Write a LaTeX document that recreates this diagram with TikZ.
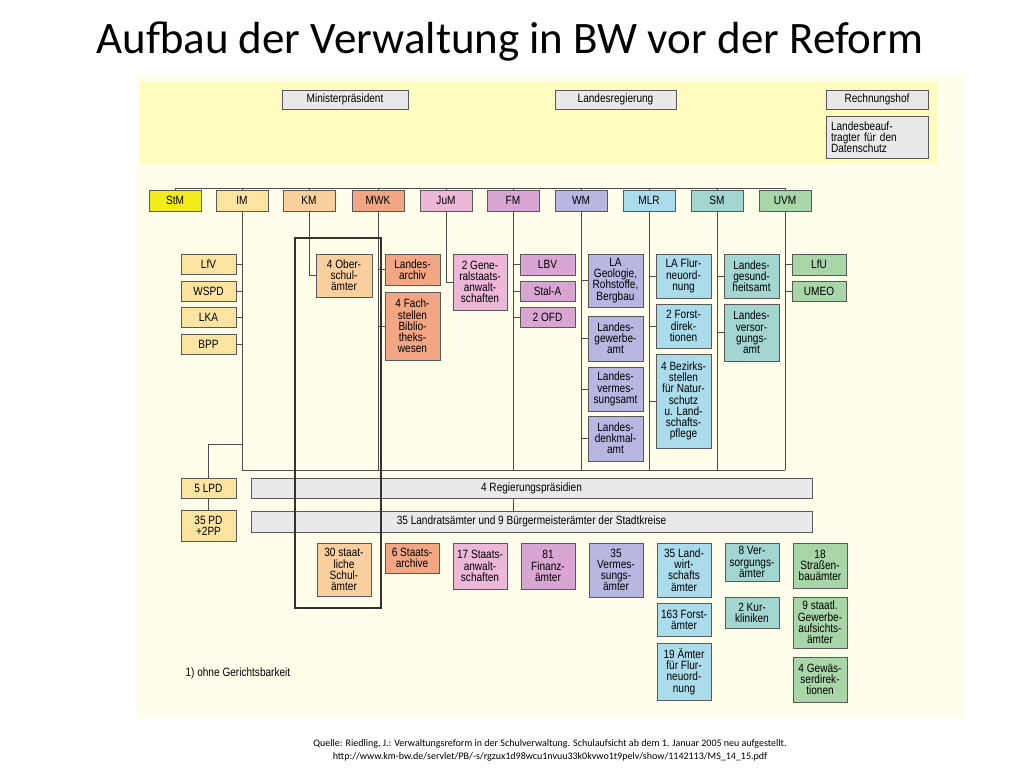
\documentclass[tikz,border=0pt]{standalone}
\usepackage{fontspec}
\setmainfont{Carlito}
\newfontfamily\bx[FakeStretch=0.84]{Liberation Sans}
\begin{document}
\begin{tikzpicture}[x=1pt,y=-1pt,
 bx/.style={draw=black!65,line width=0.8pt,inner sep=0pt,align=center,font=\bx\fontsize{12}{11.2}\selectfont},
 mi/.style={bx,minimum width=52pt,minimum height=21pt},
 ch/.style={bx,minimum width=55pt},
 gr/.style={bx,fill=grey1},
 ln/.style={draw=black!70,line width=0.8pt}]
\definecolor{grey1}{HTML}{E9E9EC}
\definecolor{cstm}{HTML}{F2EA1C}\definecolor{cim}{HTML}{FBE3A0}\definecolor{ckm}{HTML}{F9CF9E}
\definecolor{cmwk}{HTML}{F3A683}\definecolor{cjum}{HTML}{EDB8D8}\definecolor{cfm}{HTML}{D9A6D3}
\definecolor{cwm}{HTML}{B7B7E2}\definecolor{cmlr}{HTML}{ABDCEB}\definecolor{csm}{HTML}{A3D6D0}
\definecolor{cuvm}{HTML}{A8D6A8}
\useasboundingbox (0,0) rectangle (1024,768);
\fill[white] (0,0) rectangle (1024,768);
\fill[yellow!8] (137,75) rectangle (963,718);
\fill[yellow!25] (140,82) rectangle (938,164);
\node[font=\fontsize{45}{48}\selectfont] (title) at (510,42) {Aufbau der Verwaltung in BW vor der Reform};
% top
\node[gr,minimum width=126pt,minimum height=19pt] (mp) at (345,99.5) {Ministerpräsident};
\node[gr,minimum width=121pt,minimum height=19pt] (lr) at (615.5,99.5) {Landesregierung};
\node[gr,minimum width=102pt,minimum height=19pt] (rh) at (877,99.5) {Rechnungshof};
\node[gr,minimum width=102pt,minimum height=42pt,align=left,text width=92pt] (ld) at (877,137) {Landesbeauf-\\tragter für den\\Datenschutz};
% ministries
\node[mi,fill=cstm] (stm) at (175,200.5) {StM};
\node[mi,fill=cim] (im) at (242,200.5) {IM};
\node[mi,fill=ckm] (km) at (309,200.5) {KM};
\node[mi,fill=cmwk] (mwk) at (378,200.5) {MWK};
\node[mi,fill=cjum] (jum) at (446,200.5) {JuM};
\node[mi,fill=cfm] (fm) at (513,200.5) {FM};
\node[mi,fill=cwm] (wm) at (581,200.5) {WM};
\node[mi,fill=cmlr] (mlr) at (649,200.5) {MLR};
\node[mi,fill=csm] (sm) at (717,200.5) {SM};
\node[mi,fill=cuvm] (uvm) at (785,200.5) {UVM};
\coordinate (t0) at (175,188); \coordinate (t1) at (785,188);
\draw[ln] (t0) -- (t1);
\foreach \m in {stm,im,km,mwk,jum,fm,wm,mlr,sm,uvm} \draw[ln] (\m.north) -- (\m.north |- t0);
% bus
\coordinate (b0) at (242,470); \coordinate (b1) at (785,470);
\draw[ln] (b0) -- (b1);
\foreach \m in {im,mwk,fm,wm,mlr,sm,uvm} \draw[ln] (\m.south) -- (\m.south |- b0);
% IM children
\node[ch,fill=cim,minimum height=20pt] (lfv) at (208.5,264) {LfV};
\node[ch,fill=cim,minimum height=20pt] (wspd) at (208.5,291) {WSPD};
\node[ch,fill=cim,minimum height=20pt] (lka) at (208.5,317) {LKA};
\node[ch,fill=cim,minimum height=20pt] (bpp) at (208.5,344) {BPP};
\foreach \c in {lfv,wspd,lka,bpp} \draw[ln] (\c.east) -- (\c.east -| im.south);
% KM
\node[bx,fill=ckm,minimum width=56pt,minimum height=43pt] (ober) at (344,275.5) {4 Ober-\\schul-\\ämter};
\draw[ln] (km.south) |- (ober.west);
% MWK
\node[ch,fill=cmwk,minimum height=31pt] (larch) at (412.5,269.5) {Landes-\\archiv};
\node[ch,fill=cmwk,minimum height=68pt] (fach) at (412.5,326) {4 Fach-\\stellen\\Biblio-\\theks-\\wesen};
\foreach \c in {larch,fach} \draw[ln] (\c.west) -- (\c.west -| mwk.south);
% JuM
\node[bx,fill=cjum,minimum width=54pt,minimum height=56pt] (gsa) at (480,282) {2 Gene-\\ralstaats-\\anwalt-\\schaften};
\draw[ln] (jum.south) |- (gsa.west);
% FM
\node[ch,fill=cfm,minimum height=21pt] (lbv) at (547.5,264.5) {LBV};
\node[ch,fill=cfm,minimum height=20pt] (stala) at (547.5,291) {Stal-A};
\node[ch,fill=cfm,minimum height=20pt] (ofd) at (547.5,317) {2 OFD};
\foreach \c in {lbv,stala,ofd} \draw[ln] (\c.west) -- (\c.west -| fm.south);
% WM
\node[ch,fill=cwm,minimum height=53pt] (lageo) at (615.5,280.5) {LA\\Geologie,\\Rohstoffe,\\Bergbau};
\node[ch,fill=cwm,minimum height=45pt] (lgew) at (615.5,338.5) {Landes-\\gewerbe-\\amt};
\node[ch,fill=cwm,minimum height=44pt] (lverm) at (615.5,389) {Landes-\\vermes-\\sungsamt};
\node[ch,fill=cwm,minimum height=45pt] (ldenk) at (615.5,438.5) {Landes-\\denkmal-\\amt};
\foreach \c in {lageo,lgew,lverm,ldenk} \draw[ln] (\c.west) -- (\c.west -| wm.south);
% MLR
\node[ch,fill=cmlr,minimum height=44pt] (laflur) at (683.5,276) {LA Flur-\\neuord-\\nung};
\node[ch,fill=cmlr,minimum height=44pt] (forstd) at (683.5,326) {2 Forst-\\direk-\\tionen};
\node[ch,fill=cmlr,minimum height=94pt] (bez) at (683.5,401) {4 Bezirks-\\stellen\\für Natur-\\schutz\\u. Land-\\schafts-\\pflege};
\foreach \c in {laflur,forstd,bez} \draw[ln] (\c.west) -- (\c.west -| mlr.south);
% SM
\node[ch,fill=csm,minimum height=44pt] (lgesa) at (751.5,276) {Landes-\\gesund-\\heitsamt};
\node[ch,fill=csm,minimum height=57pt] (lvers) at (751.5,332.5) {Landes-\\versor-\\gungs-\\amt};
\foreach \c in {lgesa,lvers} \draw[ln] (\c.west) -- (\c.west -| sm.south);
% UVM
\node[bx,fill=cuvm,minimum width=54pt,minimum height=21pt] (lfu) at (819,264.5) {LfU};
\node[bx,fill=cuvm,minimum width=54pt,minimum height=20pt] (umeo) at (819,291) {UMEO};
\foreach \c in {lfu,umeo} \draw[ln] (\c.west) -- (\c.west -| uvm.south);
% LPD
\node[ch,fill=cim,minimum height=20pt] (lpd) at (208.5,488) {5 LPD};
\node[ch,fill=cim,minimum height=31pt] (pd) at (208.5,525.5) {35 PD\\+2PP};
\coordinate (j1) at (242,444);
\draw[ln] (j1) -| (lpd.north);
\draw[ln] (lpd.south) -- (pd.north);
% bars
\node[gr,minimum width=561pt,minimum height=20pt] (rp) at (531.5,488) {4 Regierungspräsidien};
\node[gr,minimum width=561pt,minimum height=21pt] (lra) at (531.5,521.5) {35 Landratsämter und 9 Bürgermeisterämter der Stadtkreise};
\draw[ln] (rp.north -| fm.south) -- (rp.north -| fm.south |- b0);
\draw[ln] (rp.south -| fm.south) -- (lra.north -| fm.south);
% bottom row
\newcommand{\bb}[6]{\node[bx,fill=#3,minimum width=54pt,minimum height=#4pt] (#1) at (#2,#5) {#6};}
\bb{sa}{344}{ckm}{53}{569.5}{30 staat-\\liche\\Schul-\\ämter}
\bb{starch}{412}{cmwk}{30}{558}{6 Staats-\\archive}
\bb{stanw}{480}{cjum}{46}{566}{17 Staats-\\anwalt-\\schaften}
\bb{fa}{548}{cfm}{46}{566}{81\\Finanz-\\ämter}
\bb{va}{616}{cwm}{54}{570}{35\\Vermes-\\sungs-\\ämter}
\bb{lwa}{684}{cmlr}{54}{570}{35 Land-\\wirt-\\schafts\\ämter}
\bb{fora}{684}{cmlr}{33}{619.5}{163 Forst-\\ämter}
\bb{flur}{684}{cmlr}{57}{671.5}{19 Ämter\\für Flur-\\neuord-\\nung}
\bb{vsa}{752}{csm}{38}{562}{8 Ver-\\sorgungs-\\ämter}
\bb{kur}{752}{csm}{31}{612.5}{2 Kur-\\kliniken}
\bb{sba}{820}{cuvm}{45}{565.5}{18\\Straßen-\\bauämter}
\bb{gwa}{820}{cuvm}{51}{622.5}{9 staatl.\\Gewerbe-\\aufsichts-\\ämter}
\bb{gwd}{820}{cuvm}{45}{679.5}{4 Gewäs-\\serdirek-\\tionen}
% frame
\draw[black!80,line width=2.6pt] (295,238) rectangle (381,608);
\node[anchor=west,font=\bx\fontsize{12}{12}\selectfont] (fn) at (182,673) {1) ohne Gerichtsbarkeit};
\node[align=center,font=\fontsize{10}{13}\selectfont] (src) at (550,750) {Quelle: Riedling, J.: Verwaltungsreform in der Schulverwaltung. Schulaufsicht ab dem 1. Januar 2005 neu aufgestellt.\\http://www.km-bw.de/servlet/PB/-s/rgzux1d98wcu1nvuu33k0kvwo1t9pelv/show/1142113/MS\_14\_15.pdf};
\end{tikzpicture}
\end{document}
